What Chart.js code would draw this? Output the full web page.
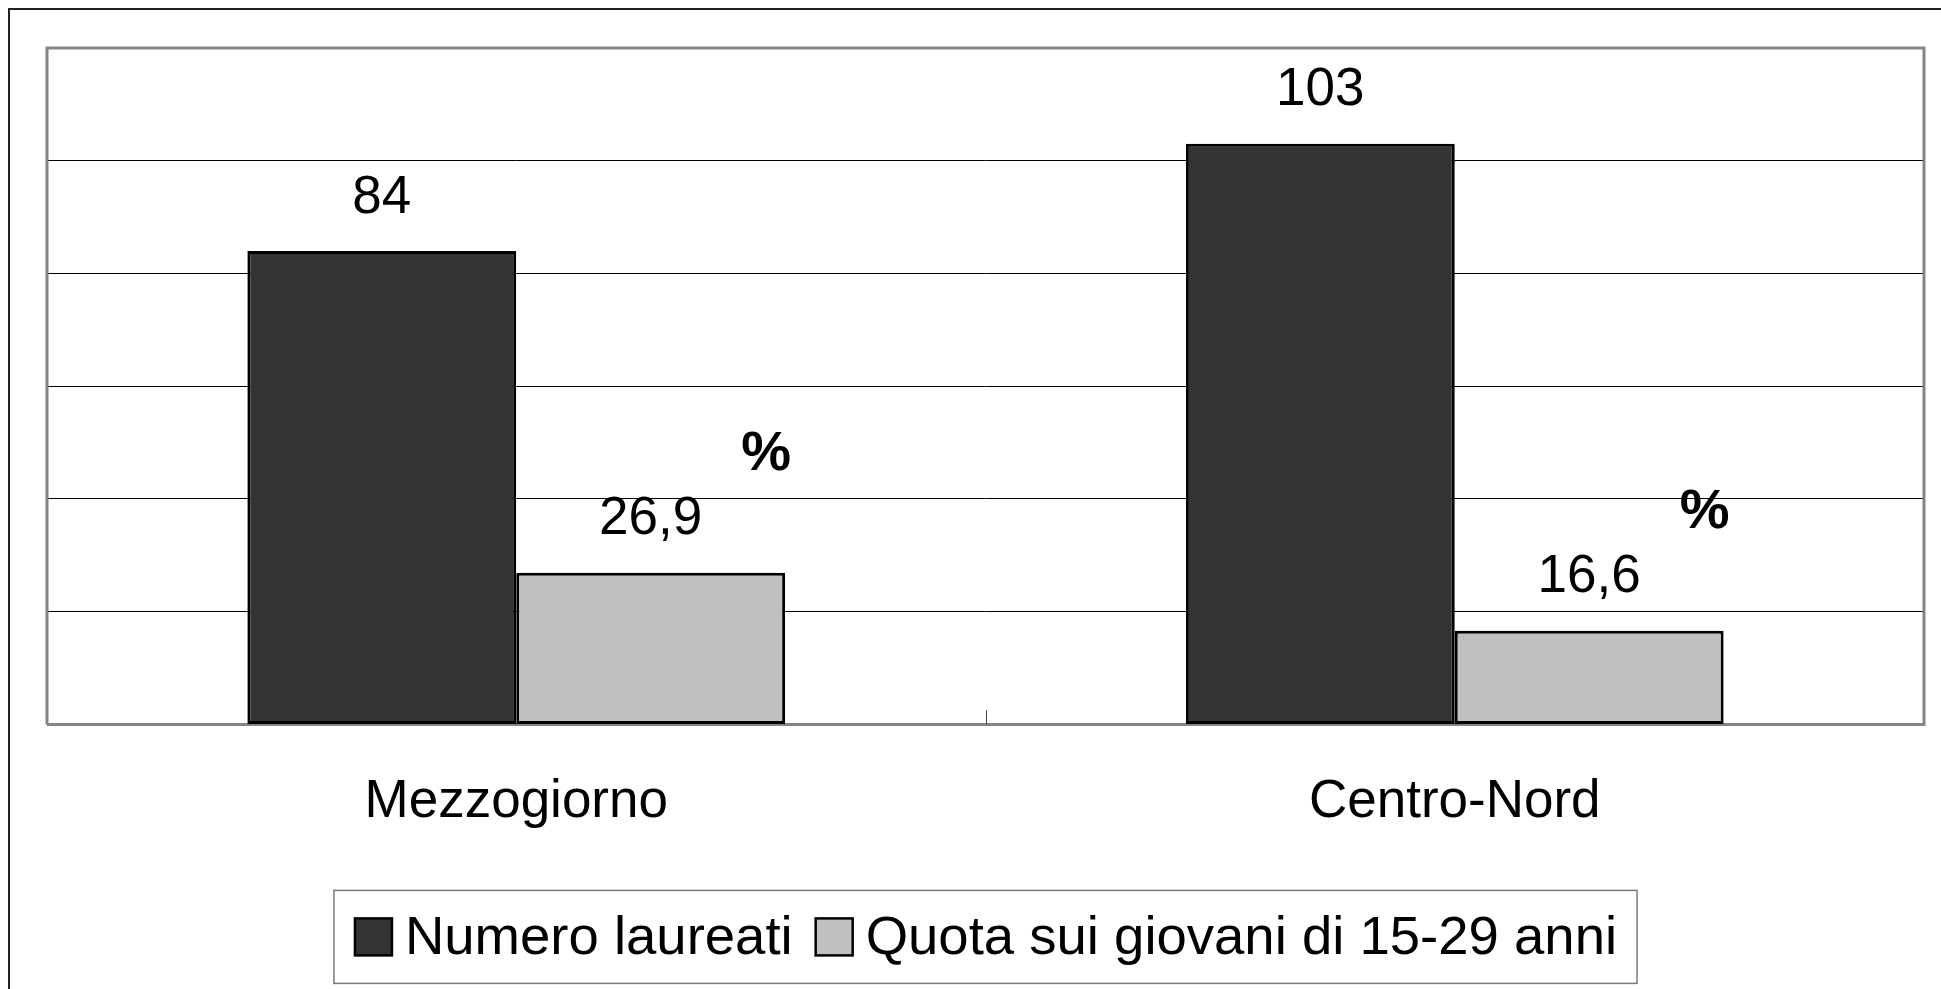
<!DOCTYPE html>
<html>
<head>
<meta charset="utf-8">
<script src="https://cdn.jsdelivr.net/npm/chart.js@4/dist/chart.umd.min.js"></script>
<style>
  html, body { margin: 0; padding: 0; background: #fff; }
  canvas { display: block; }
</style>
</head>
<body>
<canvas id="laureati" width="1941" height="989"></canvas>
<script>
// data
const categories = ['Mezzogiorno', 'Centro-Nord'];
const numeroLaureati = [84, 103];
const quotaGiovani = [26.9, 16.6];
const seriesNames = ['Numero laureati', 'Quota sui giovani di 15-29 anni'];
const seriesColors = ['#333333', '#c0c0c0'];
const yMax = 120;
const yStep = 20;
const percentMark = '%';

const FONT = '"Liberation Sans", Arial, Helvetica, sans-serif';

// outer frame + plot border + little middle tick
const framePlugin = {
    id: 'frame',
    beforeDatasetsDraw(chart) {
        const c = chart.ctx, a = chart.chartArea;
        c.save();
        c.lineWidth = 3;
        c.strokeStyle = '#858585';
        c.beginPath();
        c.moveTo(a.left, a.bottom);
        c.lineTo(a.left, a.top);
        c.lineTo(a.right, a.top);
        c.lineTo(a.right, a.bottom);
        c.lineTo(a.left, a.bottom);
        c.stroke();
        // tick between categories
        const x = chart.scales.x;
        const mid = (x.getPixelForValue(0) + x.getPixelForValue(1)) / 2;
        c.lineWidth = 1;
        c.strokeStyle = '#444';
        c.beginPath();
        c.moveTo(Math.round(mid) + 0.5, a.bottom - 14);
        c.lineTo(Math.round(mid) + 0.5, a.bottom);
        c.stroke();
        c.restore();
    },
    afterDraw(chart) {
        const c = chart.ctx;
        c.save();
        c.lineWidth = 2;
        c.strokeStyle = '#222';
        c.strokeRect(9, 9, chart.width + 20, chart.height + 20);
        c.restore();
    }
};

// value labels and the bold % next to the share bars
const labelPlugin = {
    id: 'valueLabels',
    afterDatasetsDraw(chart) {
        const c = chart.ctx;
        c.save();
        c.fillStyle = '#000';
        c.textAlign = 'center';
        c.textBaseline = 'middle';
        chart.data.datasets.forEach((ds, i) => {
            chart.getDatasetMeta(i).data.forEach((bar, j) => {
                c.font = '53px ' + FONT;
                c.fillText(String(ds.data[j]).replace('.', ','), bar.x, bar.y - 53);
                if (i === 1) {
                    c.font = 'bold 56px ' + FONT;
                    c.fillText(percentMark, bar.x + bar.width / 2 - 19, bar.y - 118);
                }
            });
        });
        c.restore();
    }
};

// boxed legend like the original
const legendPlugin = {
    id: 'boxLegend',
    afterDraw(chart) {
        const c = chart.ctx, a = chart.chartArea;
        const ds = chart.data.datasets;
        c.save();
        c.font = '54.5px ' + FONT;
        const widths = ds.map(d => c.measureText(d.label).width);
        const sw = 37, gap = 13, sep = 23, padL = 21, padR = 20;
        let total = padL + padR + sep * (ds.length - 1);
        widths.forEach(w => { total += sw + gap + w; });
        const left = (a.left + a.right) / 2 - total / 2;
        const top = a.bottom + 166;
        const h = 93;
        c.lineWidth = 1.5;
        c.strokeStyle = '#7a7a7a';
        c.strokeRect(left, top, total, h);
        let x = left + padL;
        const cy = top + h / 2;
        c.textBaseline = 'middle';
        c.textAlign = 'left';
        ds.forEach((d, i) => {
            c.fillStyle = d.backgroundColor;
            c.fillRect(x, cy - sw / 2, sw, sw);
            c.lineWidth = 2.5;
            c.strokeStyle = '#000';
            c.strokeRect(x, cy - sw / 2, sw, sw);
            x += sw + gap;
            c.fillStyle = '#000';
            c.fillText(d.label, x, cy + 2);
            x += widths[i] + sep;
        });
        c.restore();
    }
};

new Chart(document.getElementById('laureati'), {
    type: 'bar',
    data: {
        labels: categories,
        datasets: [{
            label: seriesNames[0],
            data: numeroLaureati,
            backgroundColor: seriesColors[0],
            borderColor: '#000',
            borderWidth: 3,
            borderSkipped: false
        }, {
            label: seriesNames[1],
            data: quotaGiovani,
            backgroundColor: seriesColors[1],
            borderColor: '#000',
            borderWidth: 3,
            borderSkipped: false
        }]
    },
    options: {
        responsive: false,
        animation: false,
        layout: {
            padding: { left: 47, top: 48, right: 17, bottom: 109 }
        },
        datasets: {
            bar: { categoryPercentage: 0.573, barPercentage: 1 }
        },
        plugins: {
            legend: { display: false },
            tooltip: { enabled: false }
        },
        scales: {
            x: {
                grid: { display: false, drawTicks: false },
                border: { display: false },
                ticks: {
                    color: '#000',
                    padding: 46,
                    font: { family: FONT, size: 53 }
                }
            },
            y: {
                min: 0,
                max: yMax,
                ticks: { display: false, stepSize: yStep },
                grid: { color: '#000', lineWidth: 1, drawTicks: false },
                border: { display: false }
            }
        }
    },
    plugins: [framePlugin, labelPlugin, legendPlugin]
});
</script>
</body>
</html>
